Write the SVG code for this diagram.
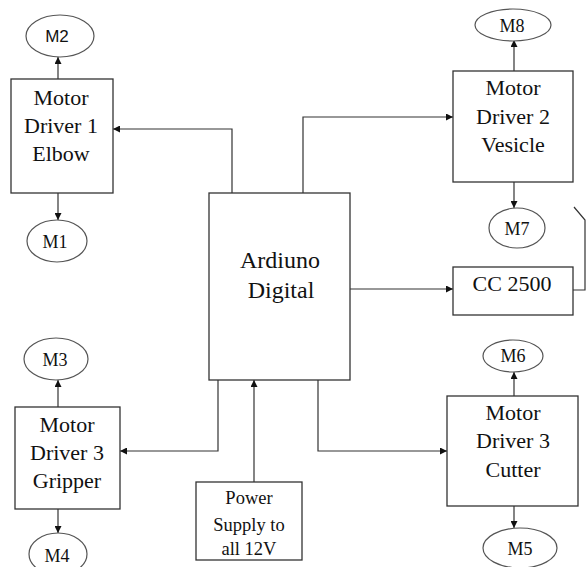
<svg xmlns="http://www.w3.org/2000/svg" width="586" height="567" viewBox="0 0 586 567">
<style>
.box{fill:#fff;stroke:#333;stroke-width:1.3}
.ell{fill:#fff;stroke:#555;stroke-width:1.2}
.t{font-family:"Liberation Serif","Times New Roman",serif;font-size:22px;fill:#111;text-anchor:middle}
.m{font-family:"Liberation Serif","Times New Roman",serif;font-size:18px;fill:#111;text-anchor:middle}
.big{font-size:24px}
.p{font-size:18.5px}
.c{fill:none;stroke:#333;stroke-width:1.2}
</style>
<defs>
<marker id="ah" viewBox="0 0 10 10" refX="10" refY="5" markerWidth="7" markerHeight="7" markerUnits="userSpaceOnUse" orient="auto">
<path d="M0,0 L10,5 L0,10 z" fill="#111"/>
</marker>
</defs>
<rect width="586" height="567" fill="#fff"/>
<g id="connectors">
<path class="c" d="M58,79 V57" marker-end="url(#ah)"/>
<path class="c" d="M58,193 V220" marker-end="url(#ah)"/>
<path class="c" d="M232,193 V129 H113" marker-end="url(#ah)"/>
<path class="c" d="M303,193 V117 H453" marker-end="url(#ah)"/>
<path class="c" d="M514,71 V40" marker-end="url(#ah)"/>
<path class="c" d="M514,182 V208" marker-end="url(#ah)"/>
<path class="c" d="M350,289 H453" marker-end="url(#ah)"/>
<path class="c" d="M573,290 H585 V220 L574,207"/>
<path class="c" d="M58,407 V380" marker-end="url(#ah)"/>
<path class="c" d="M58,509 V533" marker-end="url(#ah)"/>
<path class="c" d="M218,380 V451 H120" marker-end="url(#ah)"/>
<path class="c" d="M254,482 V380" marker-end="url(#ah)"/>
<path class="c" d="M318,380 V451 H447" marker-end="url(#ah)"/>
<path class="c" d="M514,396 V372" marker-end="url(#ah)"/>
<path class="c" d="M514,506 V528" marker-end="url(#ah)"/>
</g>
<g id="m2"><ellipse class="ell" cx="60" cy="36" rx="34" ry="21"/><text class="m" x="57" y="42" style="font-family:'Liberation Sans',Arial,sans-serif;font-size:17px">M2</text></g>
<g id="md1"><rect class="box" x="11" y="79" width="102" height="114"/>
<text class="t" x="61" y="105">Motor</text><text class="t" x="61" y="133">Driver 1</text><text class="t" x="61" y="161">Elbow</text></g>
<g id="m1"><ellipse class="ell" cx="57" cy="241" rx="30" ry="21"/><text class="m" x="55" y="248">M1</text></g>
<g id="arduino"><rect class="box" x="209" y="193" width="141" height="187"/>
<text class="t big" x="280" y="268">Ardiuno</text><text class="t big" x="281" y="298">Digital</text></g>
<g id="m8"><ellipse class="ell" cx="513" cy="25" rx="38" ry="16"/><text class="m" x="512" y="32">M8</text></g>
<g id="md2"><rect class="box" x="453" y="71" width="120" height="111"/>
<text class="t" x="513" y="95">Motor</text><text class="t" x="513" y="124">Driver 2</text><text class="t" x="513" y="152">Vesicle</text></g>
<g id="m7"><ellipse class="ell" cx="517" cy="228" rx="28" ry="20"/><text class="m" x="517" y="235">M7</text></g>
<g id="cc2500"><rect class="box" x="453" y="267" width="120" height="48"/>
<text class="t" x="512" y="291">CC 2500</text></g>
<g id="m3"><ellipse class="ell" cx="56" cy="359" rx="32" ry="21"/><text class="m" x="55" y="366">M3</text></g>
<g id="md3g"><rect class="box" x="15" y="407" width="105" height="102"/>
<text class="t" x="67" y="432">Motor</text><text class="t" x="67" y="460">Driver 3</text><text class="t" x="67" y="488">Gripper</text></g>
<g id="m4"><ellipse class="ell" cx="58" cy="554" rx="29" ry="21"/><text class="m" x="57" y="562">M4</text></g>
<g id="power"><rect class="box" x="196" y="482" width="106" height="78"/>
<text class="t p" x="249" y="504">Power</text><text class="t p" x="249" y="531">Supply to</text><text class="t p" x="249" y="555">all 12V</text></g>
<g id="m6"><ellipse class="ell" cx="513" cy="356" rx="30" ry="16"/><text class="m" x="513" y="362">M6</text></g>
<g id="md3c"><rect class="box" x="447" y="396" width="131" height="110"/>
<text class="t" x="513" y="420">Motor</text><text class="t" x="513" y="448">Driver 3</text><text class="t" x="513" y="477">Cutter</text></g>
<g id="m5"><ellipse class="ell" cx="520" cy="548" rx="37" ry="20"/><text class="m" x="520" y="555">M5</text></g>
</svg>
